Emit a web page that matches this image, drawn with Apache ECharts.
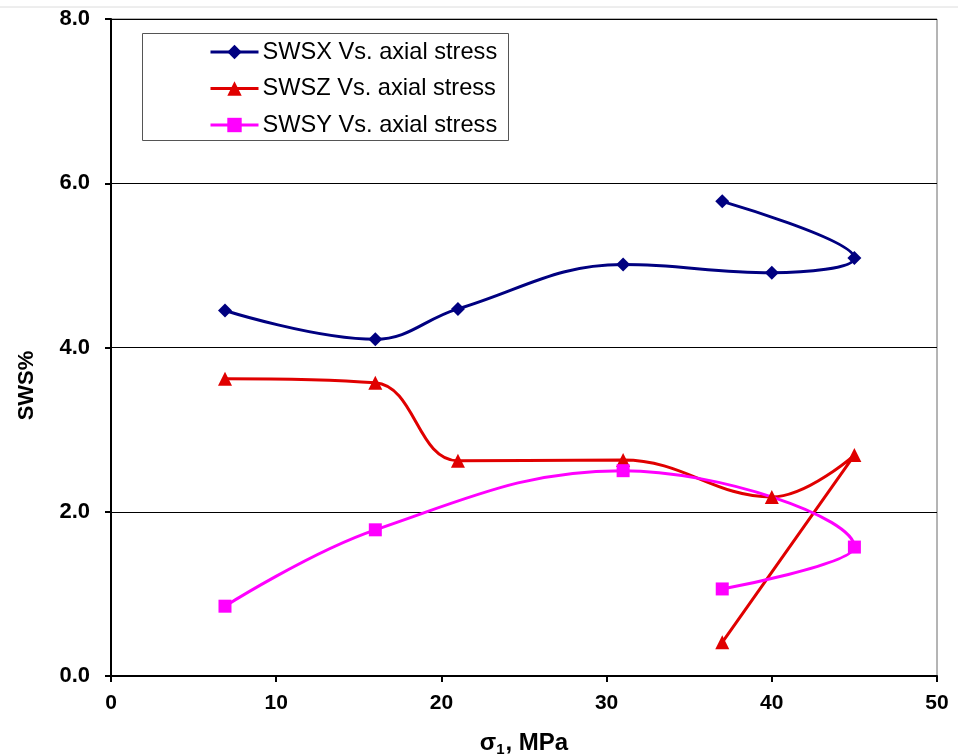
<!DOCTYPE html>
<html>
<head>
<meta charset="utf-8">
<script src="https://cdn.jsdelivr.net/npm/echarts@6/dist/echarts.min.js"></script>
<style>
  html, body { margin: 0; padding: 0; background: #fff; }
  #chart { width: 958px; height: 755px; }
</style>
</head>
<body>
<div id="chart"></div>
<script>
// Shear-wave splitting (SWS%) against axial stress, three polarisations.
const swsxStress = [6.9, 16, 21, 31, 40, 45, 37];
const swsxValues = [4.45, 4.10, 4.47, 5.01, 4.91, 5.09, 5.78];

const swszStress = [6.9, 16, 21, 31, 40, 45, 37];
const swszValues = [3.62, 3.57, 2.62, 2.63, 2.18, 2.69, 0.41];

const swsyStress = [6.9, 16, 31, 45, 37];
const swsyValues = [0.85, 1.78, 2.50, 1.57, 1.06];

const seriesNames = ['SWSX Vs. axial stress', 'SWSZ Vs. axial stress', 'SWSY Vs. axial stress'];
const xTicks = [0, 10, 20, 30, 40, 50];
const yTicks = [0, 2, 4, 6, 8];

const pairs = (xs, ys) => xs.map((x, i) => [x, ys[i]]);
const FONT = '"Liberation Sans", Arial, sans-serif';

const chart = echarts.init(document.getElementById('chart'));

const lineSeries = (name, data, color, symbol, size) => ({
  name,
  type: 'line',
  data,
  smooth: 0.4,
  symbol,
  symbolSize: size,
  showAllSymbol: true,
  lineStyle: { color, width: 3 },
  itemStyle: { color },
  z: 5
});

chart.setOption({
  animation: false,
  backgroundColor: '#fff',
  grid: {
    left: 111, right: 21, top: 19, bottom: 79,
    outerBoundsMode: 'none',
    containLabel: false,
    show: true, borderColor: '#6a6a6a', borderWidth: 1
  },
  xAxis: {
    type: 'value',
    min: xTicks[0], max: xTicks[xTicks.length - 1], interval: 10,
    axisLine: { onZero: false, lineStyle: { color: '#000', width: 2 } },
    axisTick: { show: true, length: 6, lineStyle: { color: '#000', width: 2 } },
    splitLine: { show: false },
    axisLabel: {
      color: '#000', fontSize: 21, fontWeight: 'bold', fontFamily: FONT,
      margin: 17
    },
    name: '{a|σ}{s|1}{a|, MPa}',
    nameLocation: 'middle',
    nameGap: 54,
    nameTextStyle: {
      rich: {
        a: { fontSize: 24, fontWeight: 'bold', color: '#000', fontFamily: FONT },
        s: { fontSize: 15, fontWeight: 'bold', color: '#000', fontFamily: FONT,
             verticalAlign: 'bottom', padding: [12, 1, 0, 0] }
      }
    }
  },
  yAxis: {
    type: 'value',
    min: yTicks[0], max: yTicks[yTicks.length - 1], interval: 2,
    axisLine: { show: true, lineStyle: { color: '#000', width: 2 } },
    axisTick: { show: true, length: 6, lineStyle: { color: '#000', width: 2 } },
    splitLine: { show: true, lineStyle: { color: '#000', width: 1 } },
    axisLabel: {
      color: '#000', fontSize: 22, fontWeight: 'bold', fontFamily: FONT,
      margin: 21,
      formatter: v => v.toFixed(1)
    },
    name: 'SWS%',
    nameLocation: 'middle',
    nameGap: 73,
    nameTextStyle: {
      color: '#000', fontSize: 22, fontWeight: 'bold', fontFamily: FONT,
      padding: [0, 76, 0, 0]
    }
  },
  legend: {
    orient: 'vertical',
    left: 204, top: 35,
    itemWidth: 48, itemHeight: 18, itemGap: 12.5,
    lineStyle: { width: 3 },
    textStyle: { color: '#000', fontSize: 23.6, fontFamily: FONT, padding: [0, 0, 0, -1] },
    data: seriesNames
  },
  graphic: [
    { type: 'line', shape: { x1: 0, y1: 7, x2: 958, y2: 7 }, style: { stroke: '#dcdcdc', lineWidth: 1 } },
    { type: 'rect', shape: { x: 142.5, y: 33.5, width: 366, height: 107 },
      style: { fill: '#fff', stroke: '#555', lineWidth: 1 }, z: 1 }
  ],
  series: [
    lineSeries(seriesNames[0], pairs(swsxStress, swsxValues), '#000080', 'diamond', 14),
    lineSeries(seriesNames[1], pairs(swszStress, swszValues), '#e00000', 'triangle', 14),
    lineSeries(seriesNames[2], pairs(swsyStress, swsyValues), '#ff00ff', 'rect', 13)
  ]
});
</script>
</body>
</html>
